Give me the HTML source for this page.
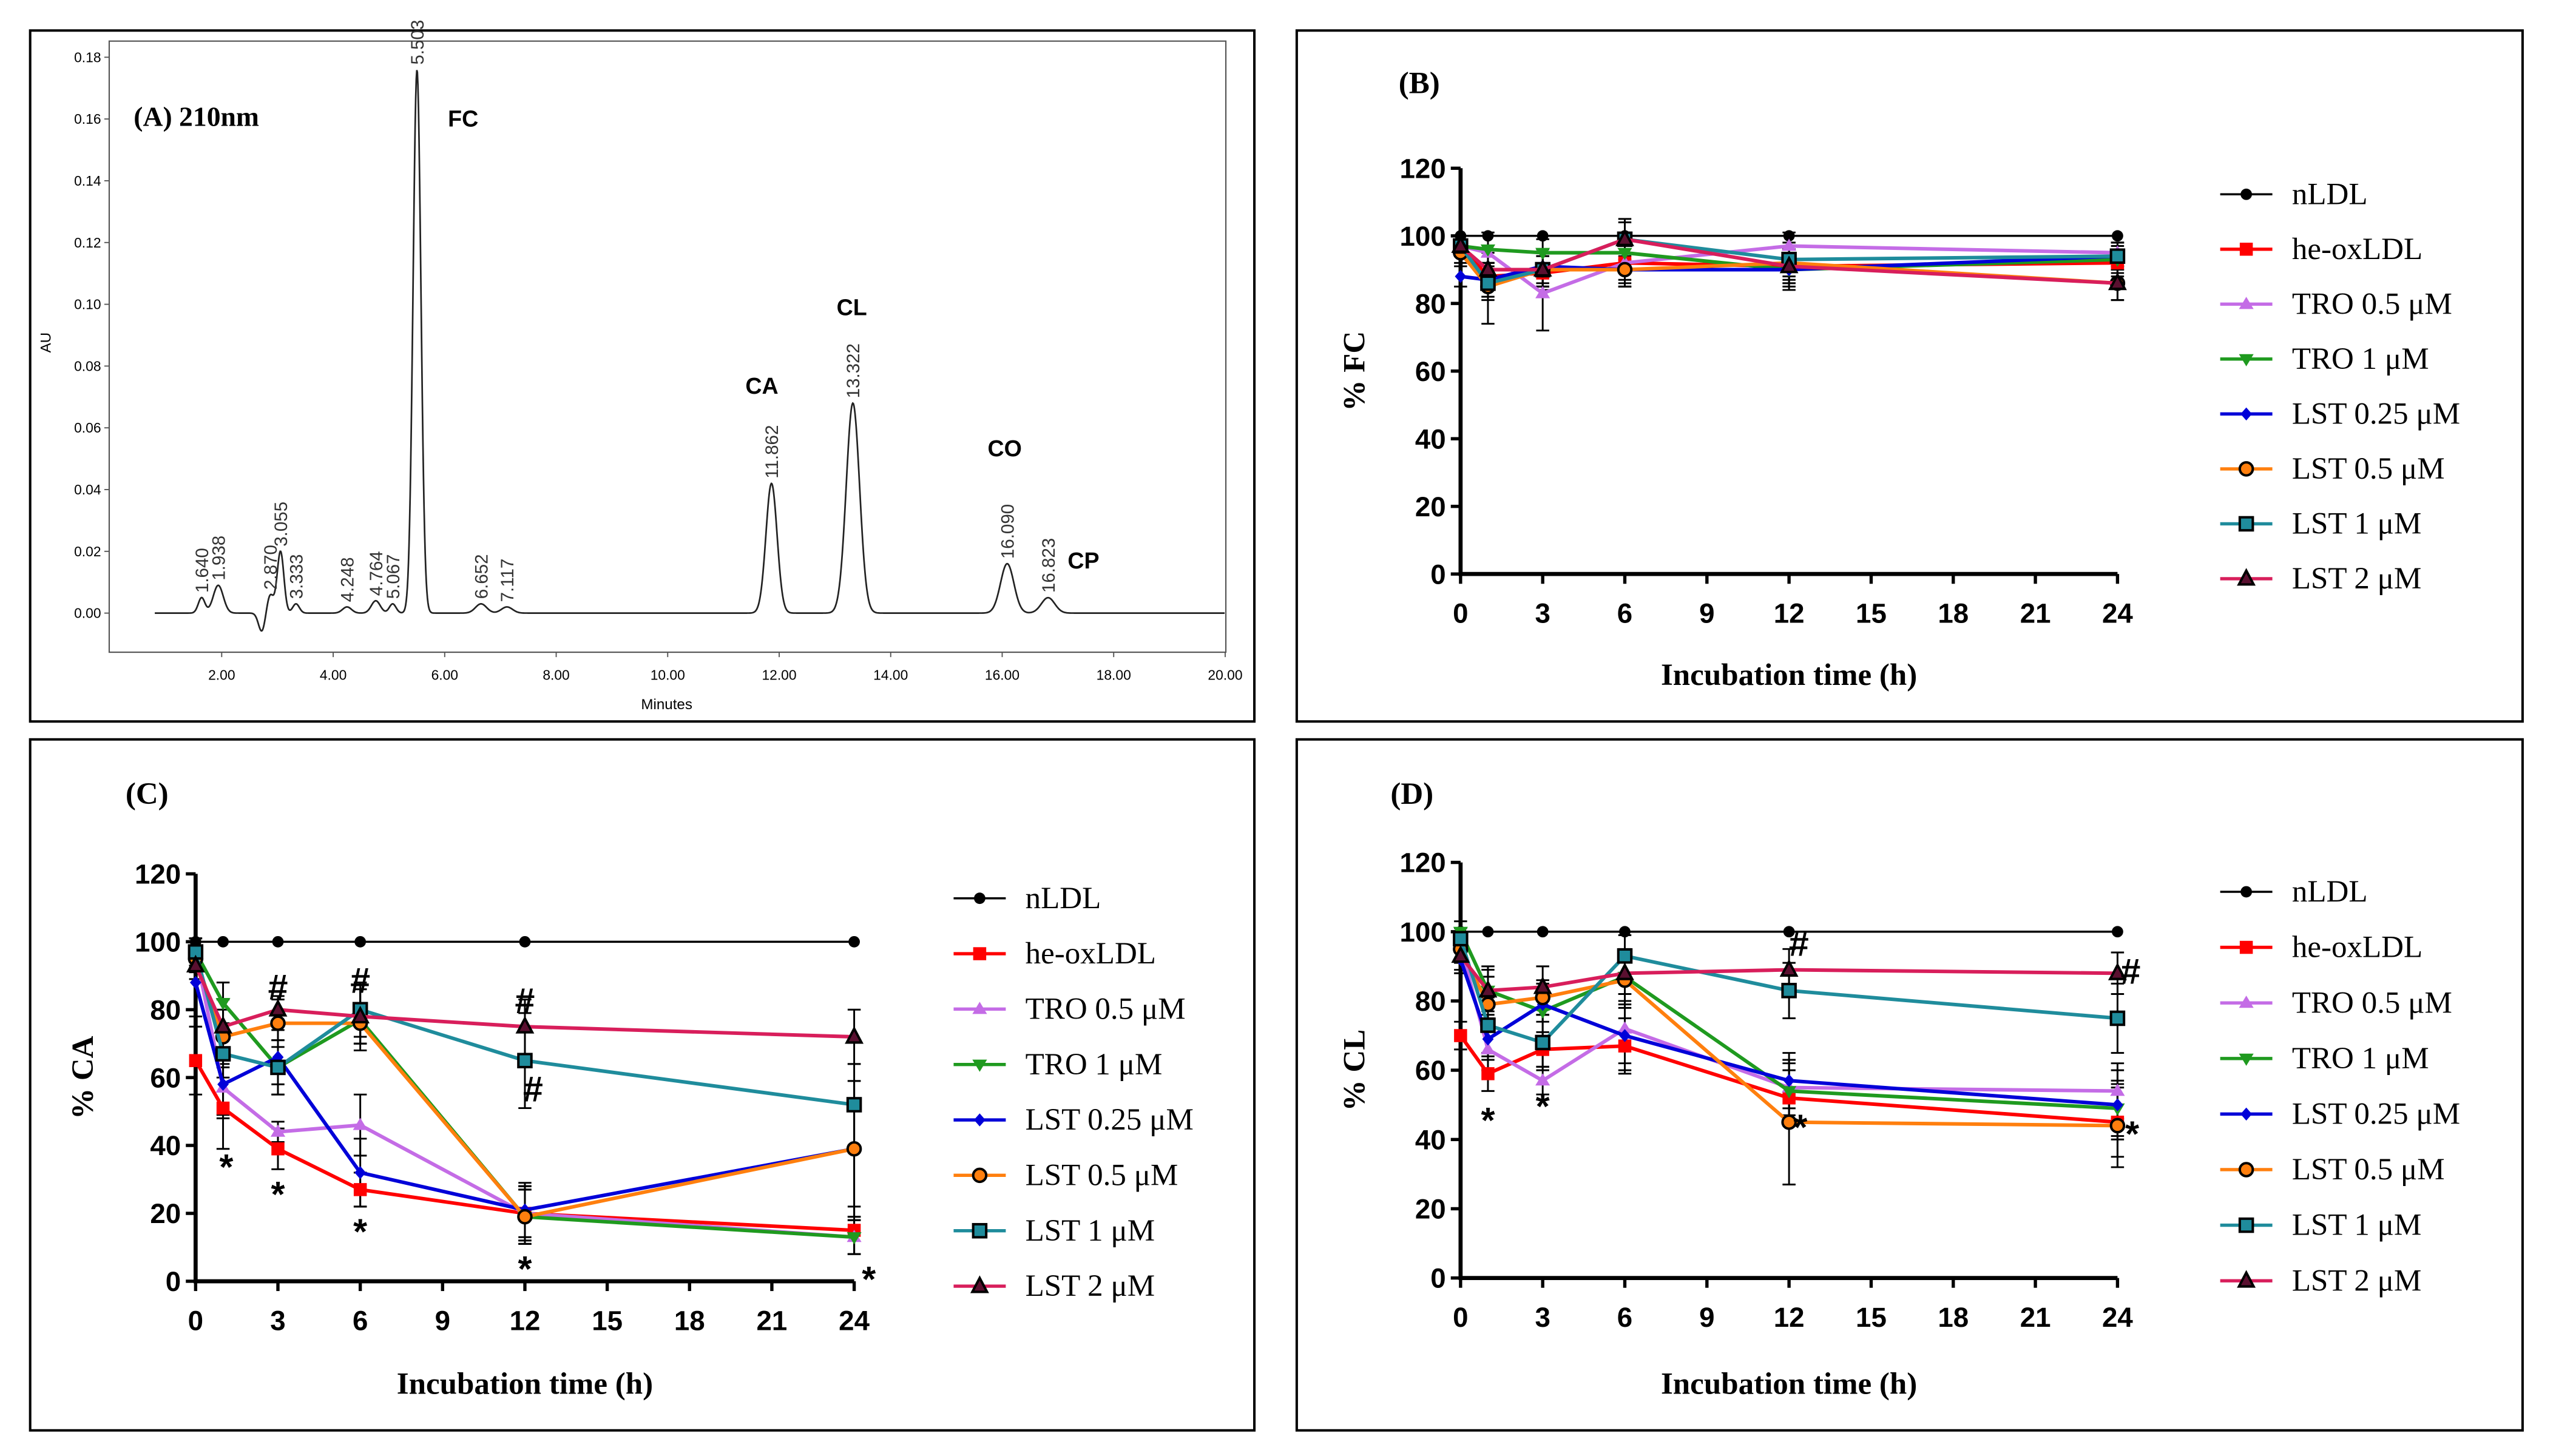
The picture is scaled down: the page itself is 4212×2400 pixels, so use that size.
<!DOCTYPE html>
<html><head><meta charset="utf-8"><style>
html,body{margin:0;padding:0;background:#fff}
svg{display:block}
.serif{font-family:"Liberation Serif",serif}
.sans{font-family:"Liberation Sans",sans-serif}
</style></head><body>
<svg id="fig" width="4212" height="2400" viewBox="0 0 1568 893" xmlns="http://www.w3.org/2000/svg">
<rect x="0" y="0" width="1568" height="893" fill="#fff"/>
<rect x="18.5" y="18.5" width="751" height="424" fill="none" stroke="#000" stroke-width="1.5"/>
<rect x="795.5" y="18.5" width="752" height="424" fill="none" stroke="#000" stroke-width="1.5"/>
<rect x="18.5" y="453.5" width="751" height="424" fill="none" stroke="#000" stroke-width="1.5"/>
<rect x="795.5" y="453.5" width="752" height="424" fill="none" stroke="#000" stroke-width="1.5"/>
<g id="pa"></g>
<g id="pb"></g>
<g id="pc"></g>
<g id="pd"></g>
</svg>
<script>
// ===== Panel A data =====
const peakTimes = [1.640,1.938,2.870,3.055,3.333,4.248,4.764,5.067,5.503,6.652,7.117,11.862,13.322,16.090,16.823];
const peakHeights = [0.005,0.009,0.006,0.020,0.003,0.002,0.004,0.003,0.176,0.003,0.002,0.042,0.068,0.016,0.005];
const peakWidths = [0.06,0.09,0.06,0.06,0.06,0.08,0.08,0.06,0.07,0.1,0.1,0.1,0.12,0.12,0.12];
const compoundNames = ["FC","CA","CL","CO","CP"];
const compoundTimes = [5.503,11.862,13.322,16.090,16.823];
const auTicks = [0,0.02,0.04,0.06,0.08,0.10,0.12,0.14,0.16,0.18];
const minuteTicks = [2,4,6,8,10,12,14,16,18,20];

// ===== Panels B-D data =====
const times = [0,1,3,6,12,24];
const seriesNames = ["nLDL","he-oxLDL","TRO 0.5 \u03bcM","TRO 1 \u03bcM","LST 0.25 \u03bcM","LST 0.5 \u03bcM","LST 1 \u03bcM","LST 2 \u03bcM"];
const fcValues = [
 [100,100,100,100,100,100],
 [97,88,89,92,91,92],
 [97,95,83,92,97,95],
 [97,96,95,95,90,93],
 [88,87,91,90,90,94],
 [95,85,90,90,92,86],
 [97,86,90,99,93,94],
 [97,90,90,99,91,86]];
const fcErrors = [
 [0,0,0,0,0,0],
 [3,4,5,5,5,4],
 [3,6,11,6,4,3],
 [3,4,4,5,6,4],
 [3,5,5,5,5,4],
 [3,11,5,5,5,5],
 [3,5,5,6,5,4],
 [3,5,5,5,5,5]];
const caValues = [
 [100,100,100,100,100,100],
 [65,51,39,27,20,15],
 [97,57,44,46,20,13],
 [97,82,63,77,19,13],
 [88,58,66,32,21,39],
 [95,72,76,76,19,39],
 [97,67,63,80,65,52],
 [93,75,80,78,75,72]];
const caErrors = [
 [0,0,0,0,0,0],
 [10,12,6,5,8,7],
 [4,8,3,9,8,5],
 [4,6,8,9,8,5],
 [10,10,8,10,8,20],
 [4,8,7,6,8,20],
 [4,7,8,8,14,12],
 [4,8,4,8,8,8]];
const clValues = [
 [100,100,100,100,100,100],
 [70,59,66,67,52,45],
 [96,66,57,72,55,54],
 [100,83,77,87,54,49],
 [92,69,79,70,57,50],
 [95,79,81,86,45,44],
 [98,73,68,93,83,75],
 [93,83,84,88,89,88]];
const clErrors = [
 [0,0,0,0,0,0],
 [4,5,5,8,8,10],
 [4,6,4,10,8,8],
 [3,7,8,8,8,8],
 [4,6,5,10,8,10],
 [4,8,5,8,18,12],
 [3,8,8,6,8,10],
 [4,6,6,6,6,6]];
const yTicks = [0,20,40,60,80,100,120];
const xTicks = [0,3,6,9,12,15,18,21,24];

const NS="http://www.w3.org/2000/svg";
function mk(parent,tag,attrs,text){const e=document.createElementNS(NS,tag);for(const k in attrs)e.setAttribute(k,attrs[k]);if(text!==undefined)e.textContent=text;parent.appendChild(e);return e;}

// ----- Panel A -----
(function(){
 const g=document.getElementById('pa');
 const X=t=>67.6+t*34.2, Y=v=>376-v/0.02*37.9;
 mk(g,'rect',{x:67,y:25,width:685,height:375,fill:'none',stroke:'#555','stroke-width':0.8});
 auTicks.forEach(v=>{
  const tl=mk(g,'text',{x:62,y:Y(v)+3,'font-size':8.5,'text-anchor':'end',class:'sans'},v.toFixed(2));
  
  
  mk(g,'line',{x1:64,x2:67,y1:Y(v),y2:Y(v),stroke:'#555','stroke-width':0.7});
 });
 minuteTicks.forEach(t=>{
  const tl=mk(g,'text',{x:X(t),y:417,'font-size':8.5,'text-anchor':'middle',class:'sans'},t.toFixed(2));
  
  
  mk(g,'line',{x1:X(t),x2:X(t),y1:400,y2:403,stroke:'#555','stroke-width':0.7});
 });
 const yl=mk(g,'text',{x:0,y:0,'font-size':9,'text-anchor':'middle',class:'sans',transform:'translate(31,210) rotate(-90)'},'AU');
 
 
 const xl=mk(g,'text',{x:409,y:435,'font-size':9,'text-anchor':'middle',class:'sans'},'Minutes');
 
 
 let d='';
 for(let t=0.8;t<=20;t+=0.01){
  let v=0;
  for(let i=0;i<peakTimes.length;i++){const z=(t-peakTimes[i])/peakWidths[i];v+=peakHeights[i]*Math.exp(-0.5*z*z);}
  v-=0.006*Math.exp(-0.5*Math.pow((t-2.72)/0.06,2));
  d+=(d?'L':'M')+X(t).toFixed(2)+','+Y(v).toFixed(2);
 }
 const p=mk(g,'path',{d:d,fill:'none',stroke:'#222','stroke-width':1});
 
 
 peakTimes.forEach((t,i)=>{
  const y=Y(peakHeights[i])-3;
  const tl=mk(g,'text',{x:0,y:0,'font-size':11,class:'sans',fill:'#333',transform:`translate(${X(t)+4},${y}) rotate(-90)`},t.toFixed(3));
  
  
 });
 const offs=[[19,35],[-16,-55],[-10,-54],[-12,-66],[12,-18]];
 compoundNames.forEach((n,i)=>{
  const j=peakTimes.indexOf(compoundTimes[i]);
  const tl=mk(g,'text',{x:X(compoundTimes[i])+offs[i][0],y:Y(peakHeights[j])+offs[i][1],'font-size':14,'font-weight':'bold',class:'sans'},n);
  
  
 });
 const t=mk(g,'text',{x:82,y:77,'font-size':17,'font-weight':'bold',class:'serif'},'(A) 210nm');
 
 
})();

// ----- Panels B-D -----
const colors=['#000','#ff0000','#c46ce6','#1f9a1f','#0000d8','#ff7f0e','#1f8c9c','#d81e5b'];
const markerFill=['#000','#ff0000','#c46ce6','#1f9a1f','#0000d8','#ff7f0e','#1f8c9c','#5a1030'];
const markers=['circle','square','triUp','triDown','diamond','ocircle','osquare','otri'];
function marker(g,type,x,y,c){
 let e;
 const s=4;
 if(type==='circle')e=mk(g,'circle',{cx:x,cy:y,r:3.5,fill:c});
 else if(type==='square')e=mk(g,'rect',{x:x-s,y:y-s,width:2*s,height:2*s,fill:c});
 else if(type==='triUp')e=mk(g,'path',{d:`M${x},${y-4.5}L${x+4.5},${y+3}L${x-4.5},${y+3}Z`,fill:c});
 else if(type==='triDown')e=mk(g,'path',{d:`M${x},${y+4.5}L${x+4.5},${y-3}L${x-4.5},${y-3}Z`,fill:c});
 else if(type==='diamond')e=mk(g,'path',{d:`M${x},${y-4}L${x+3.5},${y}L${x},${y+4}L${x-3.5},${y}Z`,fill:c});
 else if(type==='ocircle')e=mk(g,'circle',{cx:x,cy:y,r:4,fill:c,stroke:'#000','stroke-width':1.5});
 else if(type==='osquare')e=mk(g,'rect',{x:x-4,y:y-4,width:8,height:8,fill:c,stroke:'#000','stroke-width':1.5});
 else e=mk(g,'path',{d:`M${x},${y-5}L${x+4.5},${y+3.5}L${x-4.5},${y+3.5}Z`,fill:c,stroke:'#000','stroke-width':1.5});
 return e;
}
function panel(id,cfg,values,errors){
 const g=document.getElementById(id);
 const X=t=>cfg.x0+t*(cfg.x24-cfg.x0)/24, Y=v=>cfg.y0-v*(cfg.y0-cfg.y120)/120;
 const ax=mk(g,'path',{d:`M${X(0)},${Y(120)}L${X(0)},${Y(0)}L${X(24)},${Y(0)}`,fill:'none',stroke:'#000','stroke-width':2.5});
 
 
 yTicks.forEach(v=>{
  mk(g,'line',{x1:X(0)-6,x2:X(0),y1:Y(v),y2:Y(v),stroke:'#000','stroke-width':2});
  const tl=mk(g,'text',{x:X(0)-9,y:Y(v)+6,'font-size':17,'font-weight':'bold','text-anchor':'end',class:'sans'},String(v));
  
  
 });
 xTicks.forEach(t=>{
  mk(g,'line',{x1:X(t),x2:X(t),y1:Y(0),y2:Y(0)+6,stroke:'#000','stroke-width':2});
  const tl=mk(g,'text',{x:X(t),y:Y(0)+30,'font-size':17,'font-weight':'bold','text-anchor':'middle',class:'sans'},String(t));
  
  
 });
 const xt=mk(g,'text',{x:(X(0)+X(24))/2,y:cfg.xlY,'font-size':19,'font-weight':'bold','text-anchor':'middle',class:'serif'},'Incubation time (h)');
 
 
 const yt=mk(g,'text',{x:0,y:0,'font-size':19,'font-weight':'bold','text-anchor':'middle',class:'serif',transform:`translate(${cfg.ylX},${(Y(0)+Y(120))/2}) rotate(-90)`},cfg.ylabel);
 
 
 const pt=mk(g,'text',{x:cfg.tX,y:cfg.tY,'font-size':19,'font-weight':'bold',class:'serif'},cfg.title);
 
 
 // error bars
 errors.forEach((errs,si)=>{
  errs.forEach((e,i)=>{
   if(!e)return;
   const x=X(times[i]),v=values[si][i];
   const eb=mk(g,'path',{d:`M${x},${Y(v+e)}L${x},${Y(v-e)}M${x-4},${Y(v+e)}L${x+4},${Y(v+e)}M${x-4},${Y(v-e)}L${x+4},${Y(v-e)}`,fill:'none',stroke:'#000','stroke-width':1.1});
   
   
  });
 });
 values.forEach((vals,si)=>{
  const sg=mk(g,'g',{});
  
  
  const d=vals.map((v,i)=>(i?'L':'M')+X(times[i])+','+Y(v)).join('');
  mk(sg,'path',{d:d,fill:'none',stroke:colors[si],'stroke-width':si===0?1.3:2.2});
  vals.forEach((v,i)=>{
   const m=marker(sg,markers[si],X(times[i]),Y(v),markerFill[si]);
   
   
  });
 });
 seriesNames.forEach((n,si)=>{
  const y=cfg.legY+si*cfg.legDy;
  const lg=mk(g,'g',{});
  
  
  mk(lg,'line',{x1:cfg.legX,x2:cfg.legX+32,y1:y,y2:y,stroke:colors[si],'stroke-width':si===0?1.3:2});
  marker(lg,markers[si],cfg.legX+16,y,markerFill[si]);
  mk(lg,'text',{x:cfg.legX+44,y:y+6,'font-size':19,class:'serif'},n);
 });
 (cfg.notes||[]).forEach(n=>{
  const t=mk(g,'text',{x:X(n[0])+n[2],y:Y(n[1]),'font-size':22,'font-weight':'bold','text-anchor':'middle',class:'sans'},n[3]);
  
  
 });
}
panel('pb',{x0:896,x24:1299,y0:352,y120:103,xlY:420,ylX:837,ylabel:'% FC',tX:858,tY:57,title:'(B)',legX:1362,legY:119,legDy:33.7},fcValues,fcErrors);
panel('pc',{x0:120,x24:524,y0:786,y120:536,xlY:855,ylX:57,ylabel:'% CA',tX:77,tY:493,title:'(C)',legX:585,legY:551,legDy:34,
 notes:[[1,30,2,'*'],[3,22,0,'*'],[6,11,0,'*'],[12,0,0,'*'],[24,-3,9,'*'],[3,83,0,'#'],[6,85,0,'#'],[12,79,0,'#'],[12,53,5,'#']]},caValues,caErrors);
panel('pd',{x0:896,x24:1299,y0:784,y120:529,xlY:855,ylX:837,ylabel:'% CL',tX:853,tY:493,title:'(D)',legX:1362,legY:547,legDy:34.1,
 notes:[[1,42,0,'*'],[3,46,0,'*'],[12,40,7,'*'],[24,38,9,'*'],[12,93,6,'#'],[24,85,8,'#']]},clValues,clErrors);
</script>
</body></html>
